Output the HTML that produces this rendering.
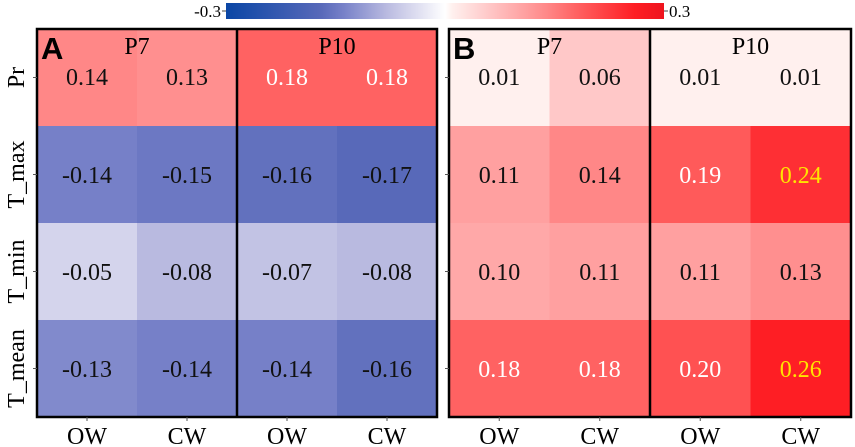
<!DOCTYPE html>
<html><head><meta charset="utf-8">
<style>
body{margin:0;background:#fff;}
svg{display:block;font-family:"Liberation Serif",serif;}
</style></head>
<body>
<svg id="c" width="855" height="447" viewBox="0 0 855 447"></svg>
<script>
const rows=['Pr','T_max','T_min','T_mean'];
const cols=['OW','CW','OW','CW'];
const groups=['P7','P10'];
const valuesA=[[0.14,0.13,0.18,0.18],[-0.14,-0.15,-0.16,-0.17],[-0.05,-0.08,-0.07,-0.08],[-0.13,-0.14,-0.14,-0.16]];
const valuesB=[[0.01,0.06,0.01,0.01],[0.11,0.14,0.19,0.24],[0.10,0.11,0.11,0.13],[0.18,0.18,0.20,0.26]];
const scaleTicks=['-0.3','0.3'];
const stops=[[-0.3,[10,70,165]],[-0.17,[88,105,185]],[-0.14,[118,128,200]],[-0.08,[185,186,224]],[-0.05,[212,212,236]],[0,[255,255,255]],[0.01,[255,240,238]],[0.06,[255,200,200]],[0.11,[255,160,160]],[0.14,[255,135,135]],[0.18,[255,98,98]],[0.26,[254,30,36]],[0.3,[238,20,30]]];
function color(v){
  for(let i=0;i<stops.length-1;i++){const a=stops[i],b=stops[i+1];
    if(v<=b[0]){const t=Math.max(0,(v-a[0])/(b[0]-a[0]));return 'rgb('+a[1].map((c,k)=>Math.round(c+(b[1][k]-c)*t)).join(',')+')';}}
  return 'rgb(238,20,30)';
}
const svg=document.getElementById('c');const NS='http://www.w3.org/2000/svg';
function el(t,a,p){const e=document.createElementNS(NS,t);for(const k in a)e.setAttribute(k,a[k]);(p||svg).appendChild(e);return e;}
const defs=el('defs',{});const lg=el('linearGradient',{id:'g',x1:0,x2:1,y1:0,y2:0},defs);
stops.forEach(s=>el('stop',{offset:((s[0]+0.3)/0.6*100)+'%','stop-color':color(s[0])},lg));
const cbX0=226,cbX1=664;
const cb=el('rect',{x:cbX0,y:3,width:cbX1-cbX0,height:16,fill:'url(#g)'});


el('line',{x1:cbX0-4,x2:cbX0,y1:11,y2:11,stroke:'#444'});el('line',{x1:cbX1,x2:cbX1+4,y1:11,y2:11,stroke:'#444'});
let t=el('text',{x:cbX0-5,y:17,'text-anchor':'end','font-size':17});t.textContent=scaleTicks[0];


t=el('text',{x:cbX1+5,y:17,'font-size':17});t.textContent=scaleTicks[1];


const topY=29,rowH=97;
function panel(x0,cw,vals,letter,name){
  const g=el('g',{});
  
  
  vals.forEach((r,i)=>r.forEach((v,j)=>{
    const c=el('rect',{x:x0+j*cw,y:topY+i*rowH,width:cw+0.5,height:rowH+0.5,fill:color(v)},g);
    
    
    const av=Math.abs(v);const fill=av>=0.24?'#ffe400':(av>=0.18?'#fff':'#111');
    const tx=el('text',{x:x0+j*cw+cw/2,y:topY+i*rowH+(i==0?56:57),'text-anchor':'middle','font-size':24,fill:fill},g);
    tx.textContent=v.toFixed(2);
    
    
  }));
  el('rect',{x:x0,y:topY,width:cw*4,height:rowH*4,fill:'none',stroke:'#000','stroke-width':2.5},g);
  el('line',{x1:x0+cw*2,x2:x0+cw*2,y1:topY,y2:topY+rowH*4,stroke:'#000','stroke-width':2.5},g);
  groups.forEach((gn,k)=>{const tt=el('text',{x:x0+cw*(2*k+1),y:topY+25,'text-anchor':'middle','font-size':24},g);tt.textContent=gn;
    
    });
  const L=el('text',{x:x0+4,y:topY+30,'font-size':31,'font-weight':'bold','font-family':'Liberation Sans,sans-serif'},g);L.textContent=letter;
  
  
  cols.forEach((cn,j)=>{const cx=x0+j*cw+cw/2;el('line',{x1:cx,x2:cx,y1:topY+rowH*4,y2:topY+rowH*4+4,stroke:'#555'},g);
    const ct=el('text',{x:cx,y:444,'text-anchor':'middle','font-size':24},g);ct.textContent=cn;
    
    });
  rows.forEach((rn,i)=>{const cy=topY+i*rowH+rowH/2;el('line',{x1:x0-4,x2:x0,y1:cy,y2:cy,stroke:'#555'},g);});
}
panel(37,100,valuesA,'A','panel-a');
panel(449,100.5,valuesB,'B','panel-b');
rows.forEach((rn,i)=>{const cy=topY+i*rowH+rowH/2;
  const rt=el('text',{x:0,y:0,'text-anchor':'middle','font-size':24,transform:'translate(24,'+cy+') rotate(-90)'});rt.textContent=rn;
  
  });
</script>
</body></html>
